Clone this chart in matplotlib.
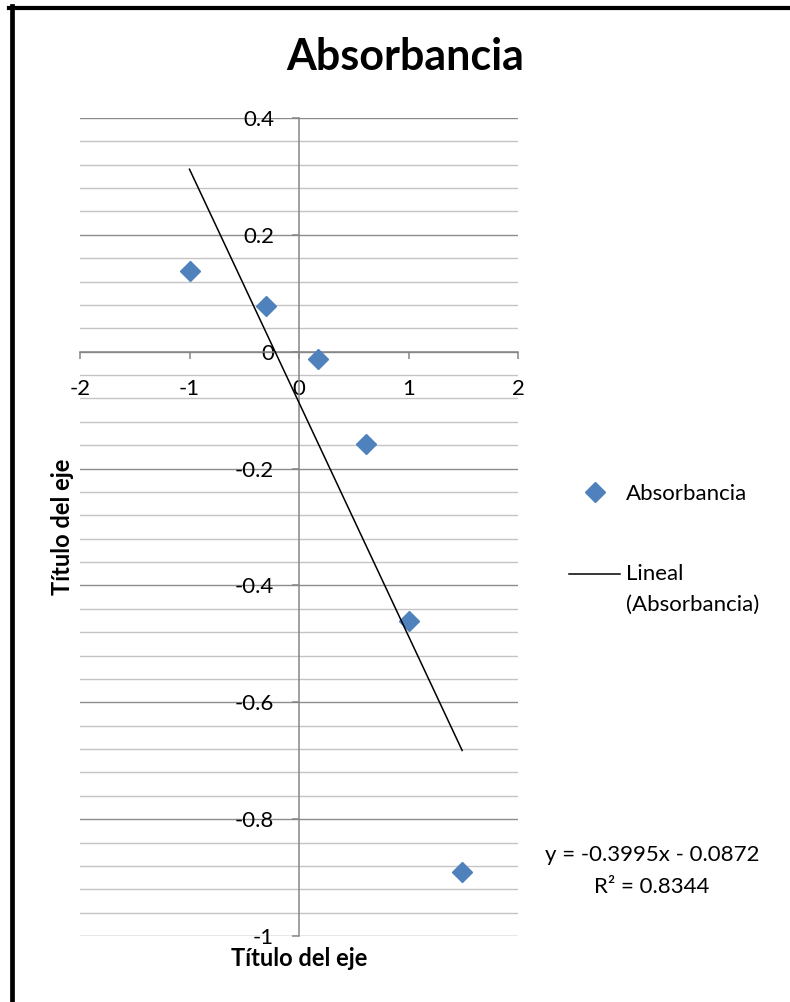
import matplotlib.pyplot as plt
import numpy as np
from matplotlib.lines import Line2D
from matplotlib.legend_handler import HandlerLine2D

# datos
x_abs = [-1.0, -0.3, 0.17, 0.61, 1.0, 1.49]
y_abs = [0.138, 0.078, -0.012, -0.158, -0.461, -0.890]

# linea de tendencia (Excel)
pendiente = -0.3995
intercepto = -0.0872
x_tend = [-1.0, 1.49]

texto_eq = "y = -0.3995x - 0.0872\nR\u00b2 = 0.8344"
titulo = "Absorbancia"
titulo_eje = "T\u00edtulo del eje"

x_ticks = [-2, -1, 0, 1, 2]
y_ticks = [-1, -0.8, -0.6, -0.4, -0.2, 0, 0.2, 0.4]
y_tick_labels = ["-1", "-0.8", "-0.6", "-0.4", "-0.2", "0", "0.2", "0.4"]

FUENTE = "Lato"
plt.rcParams["font.family"] = [FUENTE, "DejaVu Sans"]

W, H = 790, 1002
fig = plt.figure(figsize=(W / 100, H / 100), dpi=100)


def fx(px):
    return px / W


def fy(py):
    return 1 - py / H


class HandlerPrimeraLinea(HandlerLine2D):
    """Dibuja la muestra de linea a la altura de la primera linea del texto."""

    def __init__(self, desplaz=0, **kw):
        super().__init__(**kw)
        self.desplaz = desplaz

    def create_artists(self, legend, orig_handle, xdescent, ydescent,
                       width, height, fontsize, trans):
        arts = super().create_artists(legend, orig_handle, xdescent, ydescent,
                                      width, height, fontsize, trans)
        for a in arts:
            a.set_ydata(np.asarray(a.get_ydata()) + self.desplaz)
        return arts


ax = fig.add_axes([fx(80), fy(936), fx(518) - fx(80), fy(118) - fy(936)])
ax.set_xlim(-2, 2)
ax.set_ylim(-1, 0.4)

# cuadricula horizontal
ax.set_yticks(np.arange(-1, 0.41, 0.04), minor=True)
ax.grid(False)
ax.yaxis.grid(True, which="minor", color="#c4c4c4", linewidth=1.0)
ax.yaxis.grid(True, which="major", color="#8c8c8c", linewidth=1.0)
ax.set_axisbelow(True)

for s in ["top", "right"]:
    ax.spines[s].set_visible(False)
ax.spines["bottom"].set_position(("data", 0))
ax.spines["left"].set_position(("data", 0))
for s in ["bottom", "left"]:
    ax.spines[s].set_color("#868686")
    ax.spines[s].set_linewidth(1.1)

ax.set_xticks(x_ticks)
ax.set_xticklabels([str(v) for v in x_ticks])
ax.set_yticks(y_ticks)
ax.set_yticklabels(y_tick_labels)
ax.tick_params(axis="both", which="major", direction="out", length=5,
               width=1.1, color="#868686", labelsize=16, labelcolor="black")
ax.tick_params(axis="x", pad=15)
ax.tick_params(axis="y", pad=13)
ax.tick_params(axis="y", which="minor", length=0)

# puntos y tendencia
ax.plot(x_abs, y_abs, linestyle="none", marker="D", markersize=10,
        color="#4f81bd", label="Absorbancia", zorder=3)
xt = np.array(x_tend)
linea, = ax.plot(xt, pendiente * xt + intercepto, color="black", linewidth=1.1,
                 label="Lineal\n(Absorbancia)", zorder=4)

leg = fig.legend(loc="upper left", bbox_to_anchor=(fx(558), fy(473)),
                 frameon=False, fontsize=16, handlelength=2.3,
                 handletextpad=0.25, labelspacing=2.68, borderpad=0,
                 handler_map={linea: HandlerPrimeraLinea(desplaz=11.5)})
for t in leg.get_texts():
    t.set_linespacing(1.7)

# titulo, rotulos y ecuacion
fig.text(fx(405), fy(70), titulo, ha="center", va="baseline",
         fontsize=31, fontweight="bold")
fig.text(fx(299), fy(958), titulo_eje, ha="center", va="center",
         fontsize=17, fontweight="bold")
fig.text(fx(63), fy(527), titulo_eje, ha="center", va="center",
         fontsize=17, fontweight="bold", rotation=90)
fig.text(fx(652), fy(871), texto_eq, ha="center", va="center",
         fontsize=16, linespacing=1.7, multialignment="center")

# marco negro (recortado a derecha y abajo)
fig.add_artist(Line2D([fx(11.5), fx(11.5)], [fy(6), 0], color="black",
                      linewidth=3.4, transform=fig.transFigure))
fig.add_artist(Line2D([fx(9), 1], [fy(8), fy(8)], color="black",
                      linewidth=3.0, transform=fig.transFigure))

fig.savefig("out.png", dpi=100)
